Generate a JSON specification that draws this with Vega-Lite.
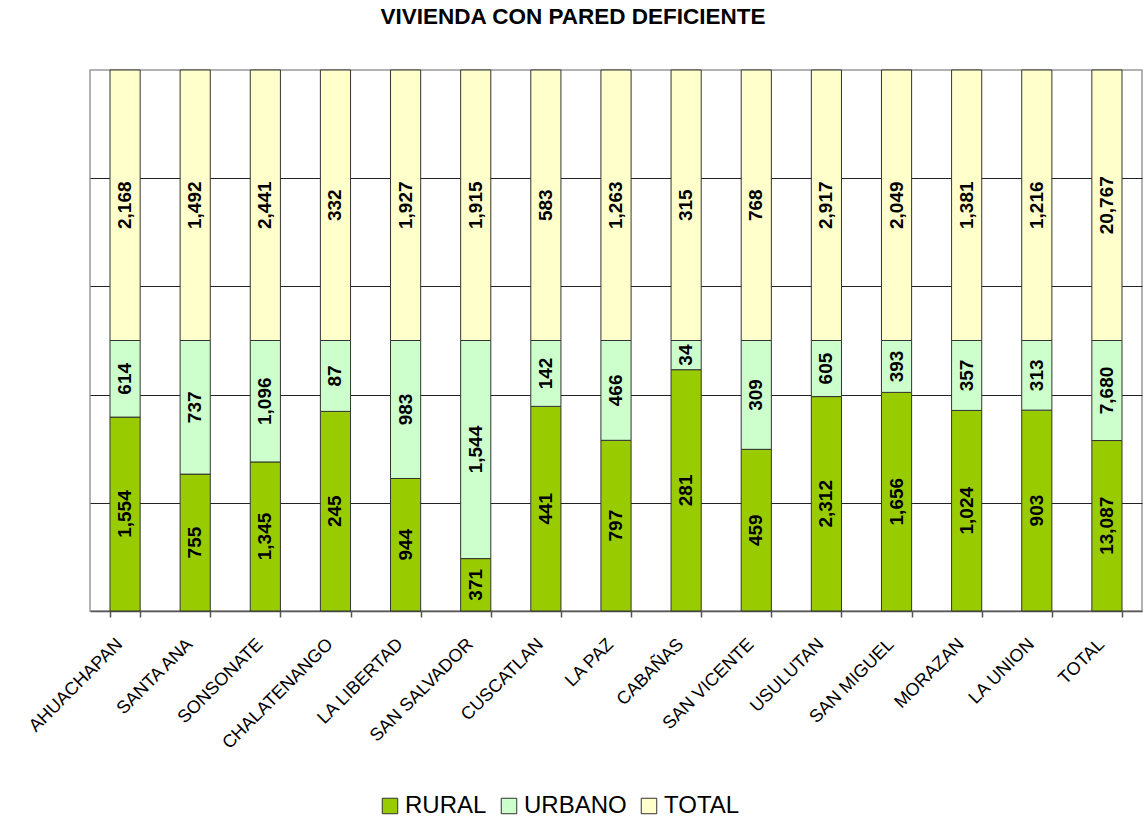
{
  "$schema": "https://vega.github.io/schema/vega-lite/v6.json",
  "autosize": "none",
  "width": 1052,
  "height": 541,
  "padding": {"left": 90, "top": 70, "right": 5, "bottom": 211},
  "background": "white",
  "config": {
    "font": "Liberation Sans",
    "view": {"stroke": "#999999", "strokeWidth": 1.5}
  },
  "title": {
    "text": "VIVIENDA CON PARED DEFICIENTE",
    "fontSize": 22.5,
    "fontWeight": "bold",
    "font": "Liberation Sans",
    "color": "black",
    "anchor": "middle",
    "frame": "group",
    "offset": 41,
    "dx": -43
  },
  "data": {
    "values": [
      {"region": "AHUACHAPAN", "serie": "RURAL", "ord": 1, "value": 1554},
      {"region": "AHUACHAPAN", "serie": "URBANO", "ord": 2, "value": 614},
      {"region": "AHUACHAPAN", "serie": "TOTAL", "ord": 3, "value": 2168},
      {"region": "SANTA ANA", "serie": "RURAL", "ord": 1, "value": 755},
      {"region": "SANTA ANA", "serie": "URBANO", "ord": 2, "value": 737},
      {"region": "SANTA ANA", "serie": "TOTAL", "ord": 3, "value": 1492},
      {"region": "SONSONATE", "serie": "RURAL", "ord": 1, "value": 1345},
      {"region": "SONSONATE", "serie": "URBANO", "ord": 2, "value": 1096},
      {"region": "SONSONATE", "serie": "TOTAL", "ord": 3, "value": 2441},
      {"region": "CHALATENANGO", "serie": "RURAL", "ord": 1, "value": 245},
      {"region": "CHALATENANGO", "serie": "URBANO", "ord": 2, "value": 87},
      {"region": "CHALATENANGO", "serie": "TOTAL", "ord": 3, "value": 332},
      {"region": "LA LIBERTAD", "serie": "RURAL", "ord": 1, "value": 944},
      {"region": "LA LIBERTAD", "serie": "URBANO", "ord": 2, "value": 983},
      {"region": "LA LIBERTAD", "serie": "TOTAL", "ord": 3, "value": 1927},
      {"region": "SAN SALVADOR", "serie": "RURAL", "ord": 1, "value": 371},
      {"region": "SAN SALVADOR", "serie": "URBANO", "ord": 2, "value": 1544},
      {"region": "SAN SALVADOR", "serie": "TOTAL", "ord": 3, "value": 1915},
      {"region": "CUSCATLAN", "serie": "RURAL", "ord": 1, "value": 441},
      {"region": "CUSCATLAN", "serie": "URBANO", "ord": 2, "value": 142},
      {"region": "CUSCATLAN", "serie": "TOTAL", "ord": 3, "value": 583},
      {"region": "LA PAZ", "serie": "RURAL", "ord": 1, "value": 797},
      {"region": "LA PAZ", "serie": "URBANO", "ord": 2, "value": 466},
      {"region": "LA PAZ", "serie": "TOTAL", "ord": 3, "value": 1263},
      {"region": "CABAÑAS", "serie": "RURAL", "ord": 1, "value": 281},
      {"region": "CABAÑAS", "serie": "URBANO", "ord": 2, "value": 34},
      {"region": "CABAÑAS", "serie": "TOTAL", "ord": 3, "value": 315},
      {"region": "SAN VICENTE", "serie": "RURAL", "ord": 1, "value": 459},
      {"region": "SAN VICENTE", "serie": "URBANO", "ord": 2, "value": 309},
      {"region": "SAN VICENTE", "serie": "TOTAL", "ord": 3, "value": 768},
      {"region": "USULUTAN", "serie": "RURAL", "ord": 1, "value": 2312},
      {"region": "USULUTAN", "serie": "URBANO", "ord": 2, "value": 605},
      {"region": "USULUTAN", "serie": "TOTAL", "ord": 3, "value": 2917},
      {"region": "SAN MIGUEL", "serie": "RURAL", "ord": 1, "value": 1656},
      {"region": "SAN MIGUEL", "serie": "URBANO", "ord": 2, "value": 393},
      {"region": "SAN MIGUEL", "serie": "TOTAL", "ord": 3, "value": 2049},
      {"region": "MORAZAN", "serie": "RURAL", "ord": 1, "value": 1024},
      {"region": "MORAZAN", "serie": "URBANO", "ord": 2, "value": 357},
      {"region": "MORAZAN", "serie": "TOTAL", "ord": 3, "value": 1381},
      {"region": "LA UNION", "serie": "RURAL", "ord": 1, "value": 903},
      {"region": "LA UNION", "serie": "URBANO", "ord": 2, "value": 313},
      {"region": "LA UNION", "serie": "TOTAL", "ord": 3, "value": 1216},
      {"region": "TOTAL", "serie": "RURAL", "ord": 1, "value": 13087},
      {"region": "TOTAL", "serie": "URBANO", "ord": 2, "value": 7680},
      {"region": "TOTAL", "serie": "TOTAL", "ord": 3, "value": 20767}
    ]
  },
  "transform": [
    {"stack": "value", "groupby": ["region"], "sort": [{"field": "ord", "order": "ascending"}], "offset": "normalize", "as": ["y0", "y1"]},
    {"calculate": "(datum.y0 + datum.y1) / 2", "as": "ymid"}
  ],
  "encoding": {
    "x": {
      "field": "region",
      "type": "nominal",
      "sort": null,
      "scale": {"paddingInner": 0.57, "paddingOuter": 0.285},
      "axis": {
        "title": null,
        "labelAngle": -45,
        "labelAlign": "right",
        "labelBaseline": "top",
        "labelFontSize": 18,
        "labelColor": "black",
        "labelPadding": 18,
        "labelOffset": -12,
        "labelFont": "Liberation Sans",
        "domainColor": "#555555",
        "domainWidth": 1.5,
        "tickColor": "#555555",
        "tickWidth": 1.5,
        "tickSize": 6,
        "tickBand": "extent",
        "grid": false
      }
    }
  },
  "layer": [
    {
      "mark": {"type": "bar", "stroke": "#333333", "strokeWidth": 1},
      "encoding": {
        "y": {
          "field": "y0",
          "type": "quantitative",
          "scale": {"domain": [0, 1], "nice": false},
          "axis": {
            "title": null,
            "labels": false,
            "ticks": false,
            "domain": false,
            "values": [0.2, 0.4, 0.6, 0.8],
            "grid": true,
            "gridColor": "#222222",
            "gridWidth": 1,
            "gridOpacity": 1
          }
        },
        "y2": {"field": "y1"},
        "color": {
          "field": "serie",
          "type": "nominal",
          "sort": ["RURAL", "URBANO", "TOTAL"],
          "scale": {"domain": ["RURAL", "URBANO", "TOTAL"], "range": ["#99CC00", "#CCFFCC", "#FFFFCC"]},
          "legend": {
            "title": null,
            "orient": "none",
            "direction": "horizontal",
            "legendX": 288,
            "legendY": 724,
            "symbolType": "square",
            "symbolSize": 240,
            "symbolStrokeColor": "#333333",
            "symbolStrokeWidth": 1,
            "symbolOpacity": 1,
            "labelFontSize": 24,
            "labelFont": "Liberation Sans",
            "labelColor": "black",
            "columnPadding": 10,
            "labelOffset": 3
          }
        }
      }
    },
    {
      "mark": {"type": "text", "angle": -90, "fontWeight": "bold", "fontSize": 19, "font": "Liberation Sans", "color": "black", "align": "center", "baseline": "middle"},
      "encoding": {
        "y": {"field": "ymid", "type": "quantitative"},
        "text": {"field": "value", "type": "quantitative", "format": ","}
      }
    }
  ]
}
